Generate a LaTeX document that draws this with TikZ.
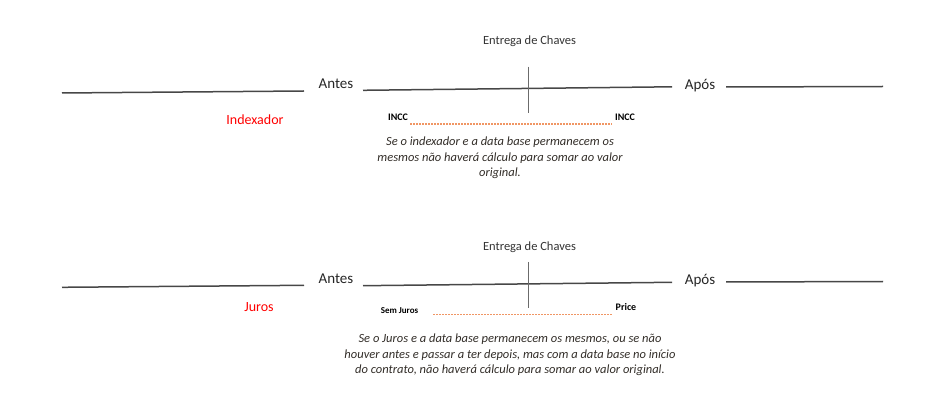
\documentclass[tikz,border=0pt]{standalone}
\usepackage{fontspec}
\setmainfont{Carlito}
\definecolor{notec}{RGB}{50,45,40}
\definecolor{dotc}{RGB}{240,150,100}
\begin{document}
\begin{tikzpicture}[x=1pt,y=-1pt,
  tline/.style={draw=black!72, line width=1.5pt},
  vline/.style={draw=black!58, line width=1pt},
  lbl/.style={font=\fontsize{15}{18}\selectfont, text=black!85, inner sep=0pt, anchor=base},
  ttl/.style={font=\fontsize{12.5}{15}\selectfont, text=black!80, inner sep=0pt, anchor=base},
  cat/.style={font=\fontsize{14}{17}\selectfont, text=red, inner sep=0pt, anchor=base},
  sm/.style={font=\bfseries\fontsize{10}{12}\selectfont, inner sep=0pt, anchor=base},
  note/.style={font=\itshape\fontsize{12.5}{15.7}\selectfont, text=notec, align=center, inner sep=0pt},
  dotl/.style={draw=dotc, line width=1.1pt, dash pattern=on 2pt off 1pt}]
\useasboundingbox (0,0) rectangle (934,403);

% ---------- top block ----------
\node[ttl] (t1) at (529.5,45) {Entrega de Chaves};
\node[lbl] (antes1) at (336,89) {Antes};
\node[lbl] (apos1) at (700,90) {Após};
\node[cat] (idx) at (255,125) {Indexador};
\node[sm] (incc1) at (398,120.5) {INCC};
\node[sm] (incc2) at (625,120.5) {INCC};
\node[note] (n1) at (500,158) {Se o indexador e a data base permanecem os\\mesmos não haverá cálculo para somar ao valor\\original.};

\coordinate (a1) at (62,93);
\coordinate (a2) at (304,91);
\coordinate (b1) at (363,90.3);
\coordinate (b2) at (672,86.8);
\coordinate (c1) at (726,87);
\coordinate (c2) at (883,86.5);
\coordinate (v1) at (528,66.7);
\coordinate (v2) at (528,113);
\coordinate (d1) at (410,124);
\coordinate (d2) at (612,124);

\draw[tline] (a1) -- (a2);
\draw[tline] (b1) -- (b2);
\draw[tline] (c1) -- (c2);
\draw[vline] (v1) -- (v2);
\draw[dotl] (d1) -- (d2);

% ---------- bottom block ----------
\node[ttl] (t2) at (529.5,250.7) {Entrega de Chaves};
\node[lbl] (antes2) at (336,283.5) {Antes};
\node[lbl] (apos2) at (700,285) {Após};
\node[cat] (jur) at (259,312) {Juros};
\node[sm, font=\bfseries\fontsize{9}{11}\selectfont] (sj) at (399.5,313.3) {Sem Juros};
\node[sm] (price) at (626,310) {Price};
\node[note] (n2) at (510,355) {Se o Juros e a data base permanecem os mesmos, ou se não\\houver antes e passar a ter depois, mas com a data base no início\\do contrato, não haverá cálculo para somar ao valor original.};

\coordinate (e1) at (62,287.3);
\coordinate (e2) at (304,285.3);
\coordinate (f1) at (363,285.7);
\coordinate (f2) at (672,282.3);
\coordinate (g1) at (726,282);
\coordinate (g2) at (883,281.5);
\coordinate (w1) at (528,262);
\coordinate (w2) at (528,308);
\coordinate (h1) at (433,314.3);
\coordinate (h2) at (612,314.3);

\draw[tline] (e1) -- (e2);
\draw[tline] (f1) -- (f2);
\draw[tline] (g1) -- (g2);
\draw[vline] (w1) -- (w2);
\draw[dotl] (h1) -- (h2);
\end{tikzpicture}
\end{document}
